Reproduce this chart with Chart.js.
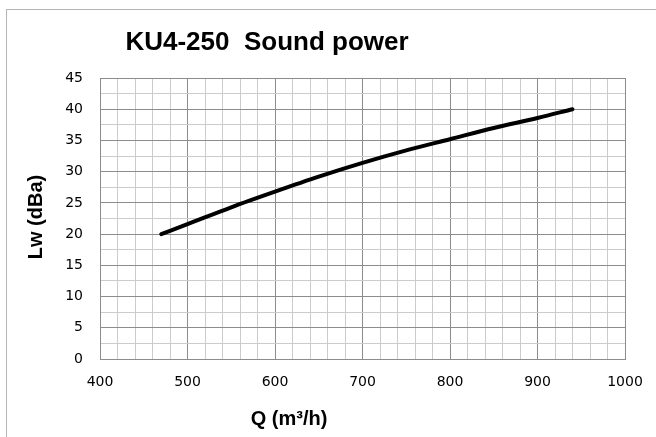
<!DOCTYPE html>
<html>
<head>
<meta charset="utf-8">
<title>KU4-250 Sound power</title>
<script src="https://cdn.jsdelivr.net/npm/chart.js@4.4.1/dist/chart.umd.min.js"></script>
<style>
    html, body { margin: 0; padding: 0; background: #fff; }
    #frame {
        position: absolute; left: 6px; top: 9px; width: 700px; height: 480px;
        border-top: 1px solid #b4b4b4; border-left: 1px solid #b4b4b4;
    }
    #wrap { position: absolute; left: 0; top: 0; width: 656px; height: 437px; }
</style>
</head>
<body>
<div id="frame"></div>
<div id="wrap"><canvas id="soundChart" width="656" height="437"></canvas></div>
<script>
// --- Data ---
const flowQ = [470, 500, 550, 600, 650, 700, 750, 800, 850, 900, 940];
const soundLw = [20, 21.6, 24.3, 26.8, 29.2, 31.4, 33.4, 35.2, 37.0, 38.6, 40];

const chartTitle = 'KU4-250  Sound power';
const xTitle = 'Q (m³/h)';
const yTitle = 'Lw (dBa)';

const xMin = 400, xMax = 1000, xMinor = 20, xMajor = 100;
const yMin = 0, yMax = 45, yMinor = 2.5, yMajor = 5;

const MAJOR_GRID = '#8c8c8c';
const MINOR_GRID = '#cccccc';

// Titles sit off-centre in the original, so they are drawn here
const titlesPlugin = {
    id: 'titles',
    afterDraw(chart) {
        const ctx = chart.ctx;
        ctx.save();
        ctx.fillStyle = '#000';
        ctx.textAlign = 'center';
        ctx.textBaseline = 'middle';

        ctx.font = 'bold 26px "Liberation Sans", Arial, sans-serif';
        ctx.fillText(chartTitle, 267, 43);

        ctx.font = 'bold 20px "Liberation Sans", Arial, sans-serif';
        ctx.fillText(xTitle, 289, 419);

        ctx.translate(36, 217);
        ctx.rotate(-Math.PI / 2);
        ctx.fillText(yTitle, 0, 0);
        ctx.restore();
    }
};

function gridColor(step) {
    return (c) => (Math.abs(c.tick.value % step) < 1e-6 ? MAJOR_GRID : MINOR_GRID);
}

const ctx = document.getElementById('soundChart').getContext('2d');

new Chart(ctx, {
    type: 'line',
    data: {
        datasets: [{
            label: 'Sound power',
            data: flowQ.map((q, i) => ({ x: q, y: soundLw[i] })),
            borderColor: '#000',
            borderWidth: 4,
            borderCapStyle: 'round',
            cubicInterpolationMode: 'monotone',
            pointRadius: 0,
            fill: false
        }]
    },
    options: {
        responsive: false,
        animation: false,
        layout: { padding: { left: 0, top: 78, right: 31, bottom: 0 } },
        plugins: {
            legend: { display: false },
            title: { display: false },
            tooltip: { enabled: false }
        },
        scales: {
            x: {
                type: 'linear',
                min: xMin,
                max: xMax,
                afterFit(scale) {
                    scale.height = 78;
                    scale.paddingLeft = 0;
                    scale.paddingRight = 0;
                },
                border: { color: MAJOR_GRID, width: 1 },
                grid: { color: gridColor(xMajor), drawTicks: false, lineWidth: 1 },
                ticks: {
                    stepSize: xMinor,
                    autoSkip: false,
                    maxRotation: 0,
                    padding: 15,
                    color: '#000',
                    font: { family: '"DejaVu Sans", Verdana, sans-serif', size: 14 },
                    callback: (v) => (v % xMajor === 0 ? v : '')
                }
            },
            y: {
                min: yMin,
                max: yMax,
                afterFit(scale) {
                    scale.width = 100;
                    scale.paddingTop = 0;
                    scale.paddingBottom = 0;
                },
                border: { color: MAJOR_GRID, width: 1 },
                grid: { color: gridColor(yMajor), drawTicks: false, lineWidth: 1 },
                ticks: {
                    stepSize: yMinor,
                    autoSkip: false,
                    padding: 17,
                    color: '#000',
                    font: { family: '"DejaVu Sans", Verdana, sans-serif', size: 14 },
                    callback: (v) => (v % yMajor === 0 ? v : '')
                }
            }
        }
    },
    plugins: [titlesPlugin]
});
</script>
</body>
</html>
